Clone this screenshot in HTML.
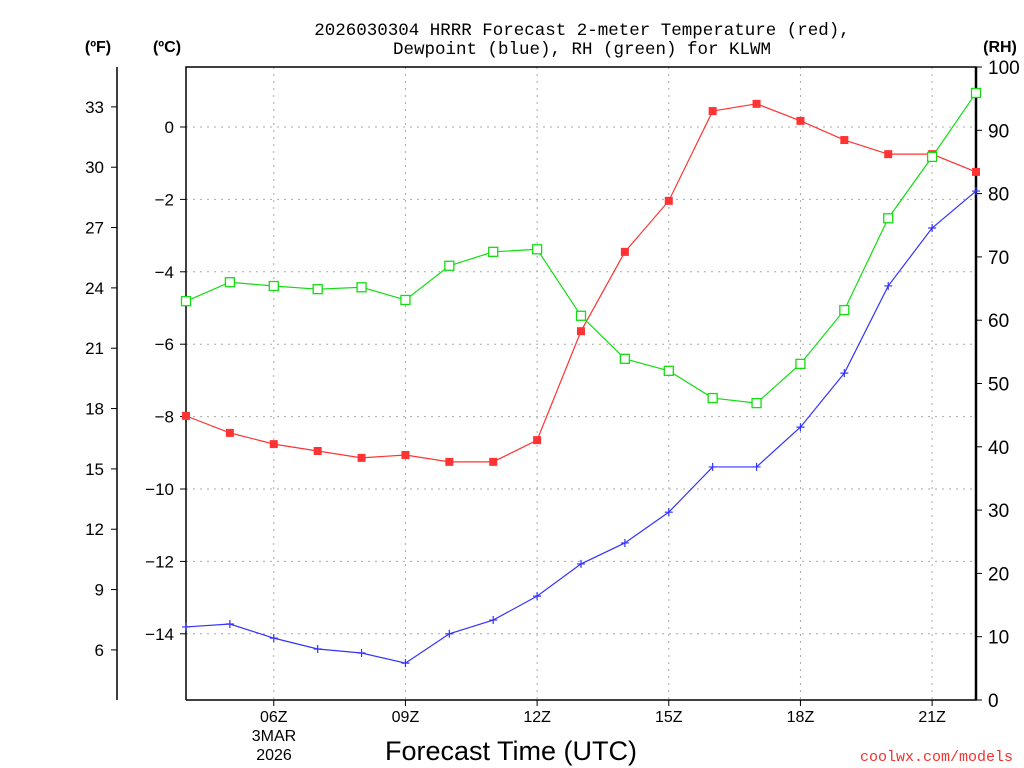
<!DOCTYPE html>
<html><head><meta charset="utf-8"><style>
html,body{margin:0;padding:0;background:#fff;width:1024px;height:768px;overflow:hidden}
text{font-family:"Liberation Sans","DejaVu Sans",sans-serif}
.mono{font-family:"Liberation Mono","DejaVu Sans Mono",monospace}
</style></head><body>
<svg id="chart" width="1024" height="768" xmlns="http://www.w3.org/2000/svg">
<g id="grid"></g>
<g id="axes"></g>
<g id="series"></g>
<text class="mono" x="582" y="35" text-anchor="middle" font-size="17.5">2026030304 HRRR Forecast 2-meter Temperature (red),</text>
<text class="mono" x="582" y="54" text-anchor="middle" font-size="17.5">Dewpoint (blue), RH (green) for KLWM</text>
<text x="98" y="52" text-anchor="middle" font-size="16" font-weight="bold">(ºF)</text>
<text x="167" y="52" text-anchor="middle" font-size="16" font-weight="bold">(ºC)</text>
<text x="1000" y="52" text-anchor="middle" font-size="16" font-weight="bold">(RH)</text>
<text x="511" y="760" text-anchor="middle" font-size="27">Forecast Time (UTC)</text>
<text x="274" y="741" text-anchor="middle" font-size="16">3MAR</text>
<text x="274" y="760" text-anchor="middle" font-size="16">2026</text>
<text class="mono" x="1013" y="761" text-anchor="end" font-size="15" fill="#e33">coolwx.com/models</text>
</svg>
<script>
const hours=[4,5,6,7,8,9,10,11,12,13,14,15,16,17,18,19,20,21,22];
const tempC=[-7.98,-8.45,-8.76,-8.95,-9.14,-9.06,-9.25,-9.25,-8.65,-5.64,-3.45,-2.04,0.44,0.64,0.17,-0.36,-0.75,-0.75,-1.24];
const dewC=[-13.81,-13.73,-14.12,-14.42,-14.53,-14.81,-14.0,-13.62,-12.96,-12.07,-11.49,-10.64,-9.39,-9.39,-8.29,-6.80,-4.39,-2.79,-1.77];
const rh=[63.0,66.0,65.4,64.9,65.2,63.2,68.6,70.8,71.2,60.7,53.9,52.0,47.7,46.9,53.1,61.6,76.1,85.8,95.9];
const xTicks=[6,9,12,15,18,21];
const xTickLabels=["06Z","09Z","12Z","15Z","18Z","21Z"];
const cTicks=[0,-2,-4,-6,-8,-10,-12,-14];
const fTicks=[33,30,27,24,21,18,15,12,9,6];
const rhTicks=[0,10,20,30,40,50,60,70,80,90,100];

const L=186,R=976,T=67,B=700;
const X=h=>L+(h-4)*(R-L)/18;
const YC=c=>127-c*36.2;
const YF=f=>YC((f-32)/1.8);
const YR=r=>B-r*(B-T)/100;
const NS="http://www.w3.org/2000/svg";
function mk(tag,attrs,parent,txt){const e=document.createElementNS(NS,tag);for(const k in attrs)e.setAttribute(k,attrs[k]);if(txt!==undefined)e.textContent=txt;parent.appendChild(e);return e;}
const grid=document.getElementById('grid'),axes=document.getElementById('axes'),ser=document.getElementById('series');
xTicks.forEach((h,i)=>{
 const g=mk('line',{x1:X(h),x2:X(h),y1:T,y2:B,stroke:'#aaa','stroke-dasharray':'2,5'},grid);
 
 
 const t=mk('line',{x1:X(h),x2:X(h),y1:B,y2:B+6,stroke:'#000'},axes);
 
 
 const l=mk('text',{x:X(h),y:722,'text-anchor':'middle','font-size':16},axes,xTickLabels[i]);
 
 
});
cTicks.forEach(c=>{
 const g=mk('line',{x1:L,x2:R,y1:YC(c),y2:YC(c),stroke:'#aaa','stroke-dasharray':'2,5'},grid);
 
 
 const t=mk('line',{x1:L-6,x2:L,y1:YC(c),y2:YC(c),stroke:'#000'},axes);
 
 
 const l=mk('text',{x:L-12,y:YC(c)+6,'text-anchor':'end','font-size':17},axes,c<0?'\u2212'+(-c):String(c));
 
 
});
fTicks.forEach(f=>{
 const t=mk('line',{x1:111,x2:117,y1:YF(f),y2:YF(f),stroke:'#000'},axes);
 
 
 const l=mk('text',{x:104,y:YF(f)+6,'text-anchor':'end','font-size':17},axes,String(f));
 
 
});
rhTicks.forEach(r=>{
 const t=mk('line',{x1:R,x2:R+6,y1:YR(r),y2:YR(r),stroke:'#000'},axes);
 
 
 const l=mk('text',{x:R+12,y:YR(r)+7,'font-size':19},axes,String(r));
 
 
});
const fl=mk('line',{x1:117,x2:117,y1:T,y2:B,stroke:'#000','stroke-width':1.5},axes);


const fr=mk('path',{d:`M${L},${B}V${T}H${R}V${B}H${L}`,fill:'none',stroke:'#000','stroke-width':1.5},axes);


const rl=mk('line',{x1:R,x2:R,y1:T,y2:B,stroke:'#000','stroke-width':2.5},axes);



function line(vals,yf,color,name){
 const p=mk('polyline',{points:vals.map((v,i)=>X(hours[i])+','+yf(v)).join(' '),fill:'none',stroke:color,'stroke-width':1.2},ser);
 
 
}
line(tempC,YC,'#f33','temperature');
line(dewC,YC,'#33f','dewpoint');
line(rh,YR,'#1d1','rh');
tempC.forEach((v,i)=>{
 const m=mk('rect',{x:X(hours[i])-4,y:YC(v)-4,width:8,height:8,fill:'#f33'},ser);
 
 
});
dewC.forEach((v,i)=>{
 const x=X(hours[i]),y=YC(v);
 const m=mk('path',{d:`M${x-4},${y}H${x+4}M${x},${y-4}V${y+4}`,stroke:'#33f','stroke-width':1.2},ser);
 
 
});
rh.forEach((v,i)=>{
 const m=mk('rect',{x:X(hours[i])-4.5,y:YR(v)-4.5,width:9,height:9,fill:'#fff',stroke:'#1d1','stroke-width':1.3},ser);
 
 
});
</script>
</body></html>
